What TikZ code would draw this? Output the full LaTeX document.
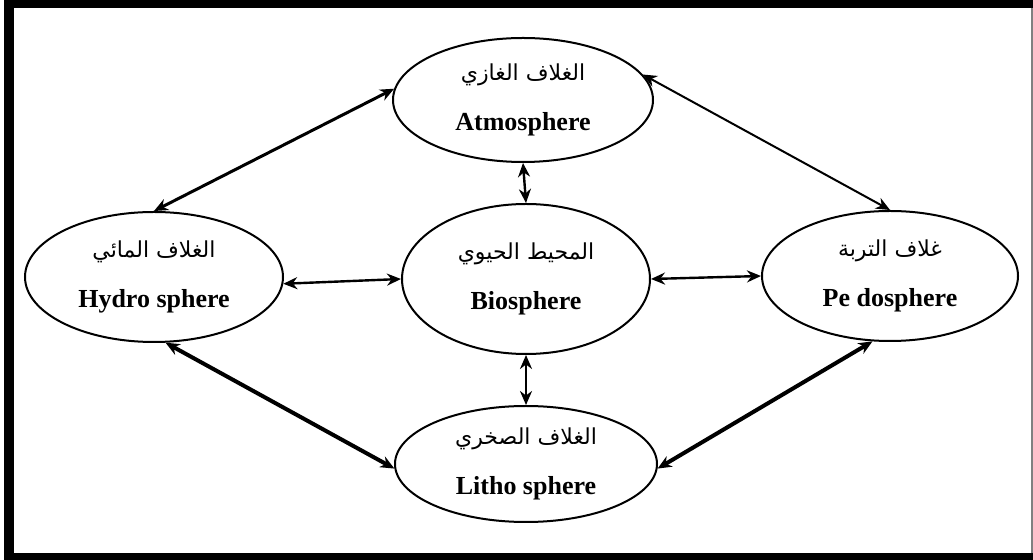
\documentclass[tikz,border=0pt]{standalone}
\usepackage{fontspec}
\setmainfont{Liberation Serif}
\newfontfamily\arabicfont[Script=Arabic]{DejaVu Sans}
\TeXXeTstate=1
\usetikzlibrary{shapes.geometric, positioning, arrows.meta}
\tikzset{sph/.style={ellipse, draw, line width=1pt, inner sep=0pt, align=center, font=\fontsize{13}{16}\selectfont\bfseries},
         link/.style={{Stealth[length=7pt,width=6pt]}-{Stealth[length=7pt,width=6pt]}, line width=1.2pt}}
\newcommand{\artxt}[1]{{\arabicfont\fontsize{11}{14}\selectfont\mdseries\beginR #1\endR}}

\begin{document}
\begin{tikzpicture}[x=0.5pt, y=-0.5pt]
\useasboundingbox (0,0) rectangle (1033,560);
\fill[black] (4,0) rectangle (1033,560);
\fill[white] (14,8) rectangle (1033,553);
\draw[gray, line width=0.8pt] (1032,8) -- (1032,553);

\node[sph, minimum width=130pt, minimum height=62pt] (atm) at (523,100) {\artxt{الغلاف الغازي}\\[9pt]Atmosphere};
\node[sph, minimum width=129pt, minimum height=65pt] (hyd) at (154,277) {\artxt{الغلاف المائي}\\[9pt]Hydro sphere};
\node[sph, minimum width=124pt, minimum height=75pt] (bio) at (526,279) {\artxt{المحيط الحيوي}\\[9pt]Biosphere};
\node[sph, minimum width=128pt, minimum height=65pt] (ped) at (890,276) {\artxt{غلاف التربة}\\[9pt]Pe dosphere};
\node[sph, minimum width=131pt, minimum height=58pt] (lit) at (526,464) {\artxt{الغلاف الصخري}\\[9pt]Litho sphere};

\draw[link, line width=1.5pt] (hyd.north) -- (atm.175);
\draw[link, line width=1pt] (atm.12) -- (ped.north);
\draw[link, line width=2pt] (hyd.-80) -- (lit.182);
\draw[link, line width=2pt] (ped.-105) -- (lit.-2);
\draw[link] (atm.south) -- (bio.north);
\draw[link] (bio.south) -- (lit.north);
\draw[link] (hyd.-3) -- (bio.west);
\draw[link] (bio.east) -- (ped.west);
\end{tikzpicture}
\end{document}
